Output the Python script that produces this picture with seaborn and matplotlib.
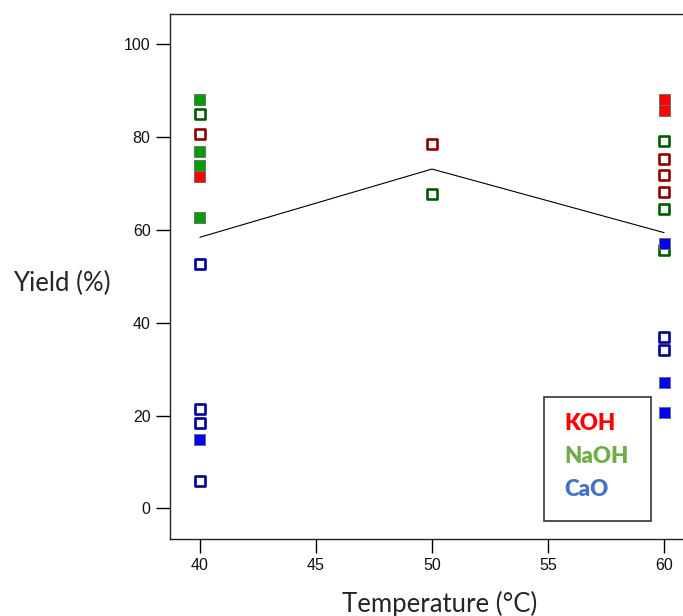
import matplotlib
matplotlib.use("Agg")
import matplotlib.pyplot as plt
import seaborn as sns
import pandas as pd
from matplotlib.patches import Rectangle

# ---- data ----
temps = [40, 40, 40, 40, 40, 40, 40, 40, 40, 40, 40, 40,
         50, 50,
         60, 60, 60, 60, 60, 60, 60, 60, 60, 60, 60, 60, 60]
yields = [88.0, 84.9, 80.6, 76.8, 73.8, 71.4, 62.6, 52.7, 21.5, 18.4, 14.8, 6.0,
          78.5, 67.7,
          88.0, 85.8, 79.1, 75.2, 71.8, 68.2, 64.5, 57.0, 55.7, 37.0, 34.2, 27.2, 20.6]
catalyst = ["NaOH", "NaOH", "KOH", "NaOH", "NaOH", "KOH", "NaOH", "CaO", "CaO", "CaO", "CaO", "CaO",
            "KOH", "NaOH",
            "KOH", "KOH", "NaOH", "KOH", "KOH", "KOH", "NaOH", "CaO", "NaOH", "CaO", "CaO", "CaO", "CaO"]
kind = ["filled", "hollow", "hollow", "filled", "filled", "filled", "filled", "hollow", "hollow", "hollow", "filled", "hollow",
        "hollow", "hollow",
        "filled", "filled", "hollow", "hollow", "hollow", "hollow", "hollow", "filled", "hollow", "hollow", "hollow", "filled", "filled"]

line_x = [40, 50, 60]
line_y = [58.4, 73.1, 59.4]

x_ticks = [40, 45, 50, 55, 60]
y_ticks = [0, 20, 40, 60, 80, 100]
legend_labels = ["KOH", "NaOH", "CaO"]
legend_colors = ["#ff0000", "#70ad47", "#4472c4"]

fill_pal = {"KOH": "#ff0000", "NaOH": "#00a000", "CaO": "#0000ff"}
edge_pal = {"KOH": "#900000", "NaOH": "#005a00", "CaO": "#000096"}

df = pd.DataFrame({"temp": temps, "yield": yields, "cat": catalyst, "kind": kind})

sns.set_style("white")
plt.rcParams["font.family"] = ["Liberation Sans", "DejaVu Sans"]

W, H = 683, 616
fig = plt.figure(figsize=(W / 100, H / 100), dpi=100)
ax = fig.add_axes([170 / W, 1 - 539 / H, (694 - 170) / W, (539 - 14) / H])

sns.lineplot(x=line_x, y=line_y, ax=ax, color="black", linewidth=0.8, zorder=2)

hol = df[df.kind == "hollow"]
for cat, sub in hol.groupby("cat"):
    sns.scatterplot(x=sub["temp"].values, y=sub["yield"].values, marker="s", s=62,
                    facecolor="white", edgecolor=edge_pal[cat], linewidth=1.9,
                    ax=ax, zorder=3, legend=False)

fil = df[df.kind == "filled"]
sns.scatterplot(data=fil, x="temp", y="yield", hue="cat", palette=fill_pal, marker="s",
                s=62, edgecolor="#707070", linewidth=0.7, legend=False, ax=ax, zorder=4)

ax.set_xlim(38.71, 61.29)
ax.set_ylim(-6.6, 106.5)
ax.set_xticks(x_ticks)
ax.set_yticks(y_ticks)
ax.tick_params(axis="both", which="both", direction="out", length=10, width=1,
               color="black", labelsize=11.5, labelcolor="#111111", pad=4,
               left=True, bottom=True)
for s in ax.spines.values():
    s.set_color("#222222")
    s.set_linewidth(1)

ax.set_xlabel("")
ax.set_ylabel("")
fig.text(440 / W, 1 - 604 / H, "Temperature (°C)", ha="center", va="center",
         fontsize=18.5, family=["Lato", "DejaVu Sans"])
fig.text(62 / W, 1 - 283 / H, "Yield (%)", ha="center", va="center",
         fontsize=18.5, family=["Lato", "DejaVu Sans"])

# legend box
rect = Rectangle((544 / W, 1 - 521 / H), (651 - 544) / W, (521 - 397) / H,
                 transform=fig.transFigure, facecolor="white", edgecolor="#333333",
                 linewidth=1.2, zorder=10)
fig.patches.append(rect)
for i, (lab, col) in enumerate(zip(legend_labels, legend_colors)):
    fig.text(564 / W, 1 - (424 + 32.5 * i) / H, lab, color=col, ha="left", va="center",
             fontsize=16, fontweight="heavy", family=["Lato", "DejaVu Sans"], zorder=11)

fig.savefig("out.png", dpi=100)
